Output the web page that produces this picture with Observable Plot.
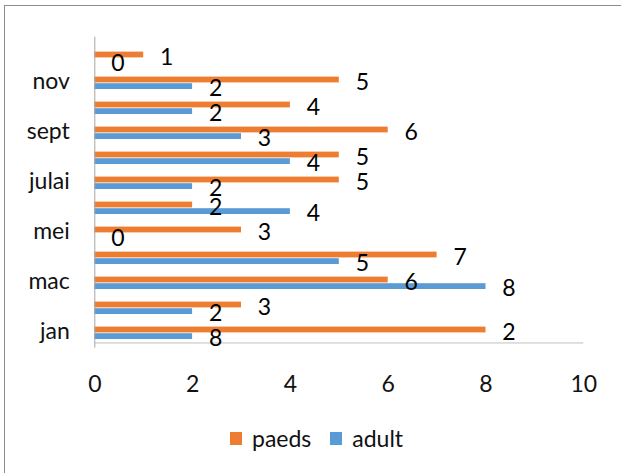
<!DOCTYPE html>
<html>
<head>
<meta charset="utf-8">
<script src="https://cdn.jsdelivr.net/npm/d3@7"></script>
<script src="https://cdn.jsdelivr.net/npm/@observablehq/plot@0.6"></script>
<style>
  html, body { margin: 0; padding: 0; background: #fff; overflow: hidden; }
  #wrap { position: relative; width: 621px; height: 473px; overflow: hidden; font-family: Lato, "Open Sans", sans-serif; }
  #frame { position: absolute; left: 4px; top: 5px; width: 800px; height: 700px; border: 1px solid #8c8c8c; box-sizing: border-box; }
  #chart { position: absolute; left: 0; top: 0; }
  #legend { position: absolute; left: 230px; top: 424px; display: flex; align-items: center; font-size: 23px; color: #111; line-height: 28px; }
  .sw { width: 12px; height: 13px; display: inline-block; margin-right: 10px; }
  .item { display: flex; align-items: center; margin-right: 19px; }
</style>
</head>
<body>
<div id="wrap">
  <div id="frame"></div>
  <div id="chart"></div>
  <div id="legend"></div>
</div>
<script>
const months = ["jan","feb","mac","apr","mei","jun","julai","ogos","sept","okt","nov","dis"];
const paeds = [8,3,6,7,3,2,5,5,6,4,5,1];
const adult = [2,2,8,5,0,4,2,4,3,2,2,0];
const paedsLabels = ["2","3","6","7","3","2","5","5","6","4","5","1"];
const adultLabels = ["8","2","8","5","0","4","2","4","3","2","2","0"];
const shownMonths = ["jan","mac","mei","julai","sept","nov"];
const xTicks = [0,2,4,6,8,10];
const seriesNames = ["paeds","adult"];
const seriesColors = ["#ED7D31","#5B9BD5"];

const data = months.map((m, i) => ({
  month: m, paeds: paeds[i], adult: adult[i],
  paedsLabel: paedsLabels[i], adultLabel: adultLabels[i]
}));

const svgH = 410, plotTop = 36.7, plotBottom = 347.7;
const step = (plotBottom - plotTop) / months.length;

const chart = Plot.plot({
  width: 621,
  height: svgH,
  marginTop: plotTop,
  marginBottom: svgH - plotBottom,
  marginLeft: 94.3,
  marginRight: 37.7,
  style: { fontFamily: "Lato, 'Open Sans', sans-serif", fontSize: "23px", color: "#111", background: "transparent", overflow: "visible" },
  x: { domain: [0, 10], axis: null },
  y: { domain: [...months].reverse(), padding: 0, axis: null },
  marks: [
    Plot.axisX({ ticks: xTicks, tickSize: 0, tickPadding: 27, label: null, fill: "#111" }),
    Plot.axisY({ ticks: shownMonths, tickSize: 0, tickPadding: 25, label: null, dy: 1.5, fill: "#111" }),
    Plot.barX(data, { x: "paeds", y: "month", fill: seriesColors[0], insetTop: 9.6, insetBottom: 9.6 }),
    Plot.barX(data, { x: "adult", y: "month", fill: seriesColors[1], insetTop: 16.2, insetBottom: 3 }),
    Plot.ruleX([0], { stroke: "#a6a6a6", strokeWidth: 1 }),
    Plot.ruleY([months[0]], { dy: step / 2, stroke: "#bfbfbf", strokeWidth: 1 }),
    Plot.text(data, { x: "paeds", y: "month", text: "paedsLabel", dx: 23, dy: 2.2, fontSize: 23, fill: "#000" }),
    Plot.text(data, { x: "adult", y: "month", text: "adultLabel", dx: 23, dy: 9, fontSize: 23, fill: "#000" })
  ]
});
document.getElementById("chart").appendChild(chart);

const legend = document.getElementById("legend");
seriesNames.forEach((name, i) => {
  const item = document.createElement("div");
  item.className = "item";
  const sw = document.createElement("span");
  sw.className = "sw";
  sw.style.background = seriesColors[i];
  const t = document.createElement("span");
  t.textContent = name;
  item.appendChild(sw);
  item.appendChild(t);
  legend.appendChild(item);
});
</script>
</body>
</html>
